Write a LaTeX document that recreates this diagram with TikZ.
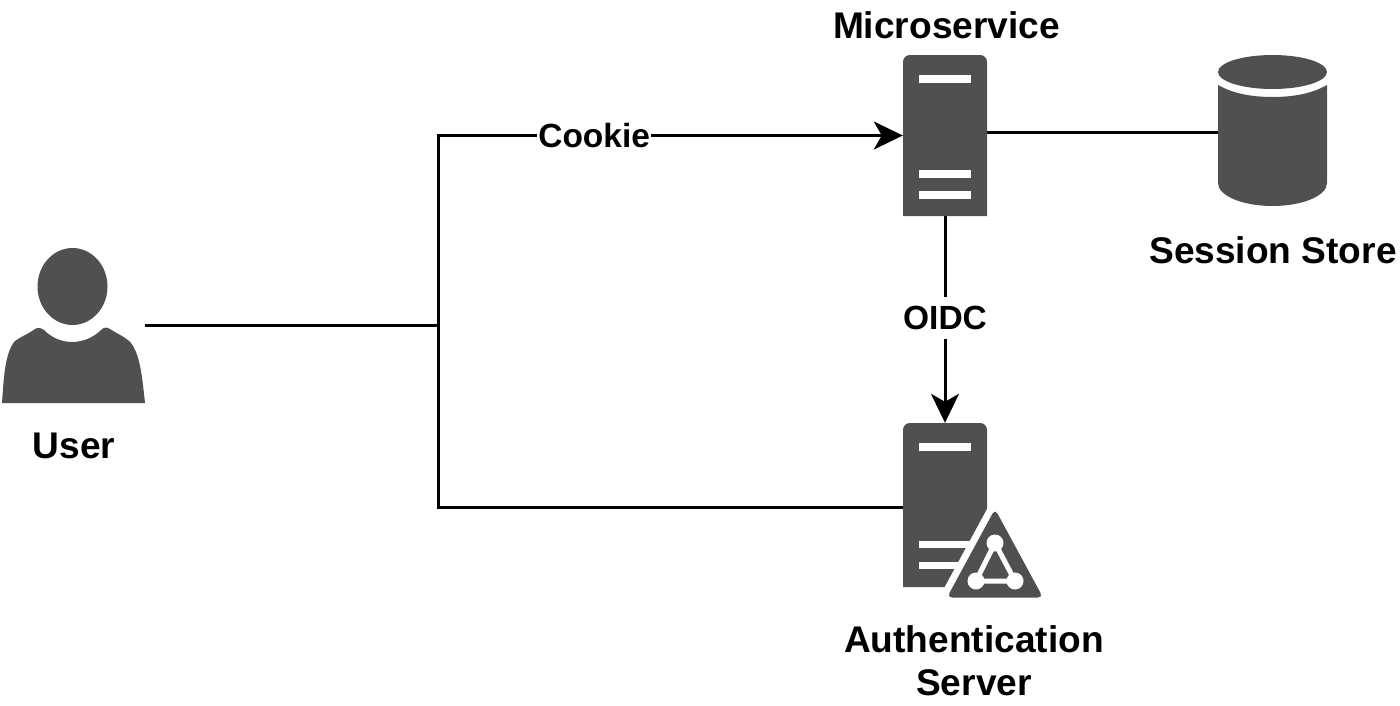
\documentclass[tikz,border=0pt]{standalone}
\usepackage{fontspec}
\setmainfont{Liberation Sans}
\usetikzlibrary{arrows.meta}
\definecolor{icon}{HTML}{505050}
\tikzset{
  lab/.style={font=\fontsize{37.1}{43}\selectfont\bfseries,text=black,inner sep=0pt,align=center},
  edgelab/.style={font=\fontsize{33.5}{40}\selectfont\bfseries,text=black,fill=white,inner sep=1pt},
  conn/.style={draw=black,line width=3pt},
  head/.style={-{Stealth[length=29pt,width=28pt,inset=8pt]}},
  anchorbox/.style={inner sep=0pt,minimum width=#1},
  slot/.style={fill=white,draw=none}
}
\begin{document}
\begin{tikzpicture}[x=1pt,y=-1pt]
\useasboundingbox[fill=white] (0,0) rectangle (1400,705);
% anchor nodes of the icons
\node[anchorbox=143pt,minimum height=155pt] (user) at (73.5,325.5) {};
\node[anchorbox=84pt,minimum height=161pt] (ms) at (945,135.5) {};
\node[anchorbox=84pt,minimum height=164pt] (as) at (945,505) {};
\node[anchorbox=109pt,minimum height=148pt] (db) at (1272.5,132) {};
\coordinate (j) at (438,325.5);
\coordinate (asw) at (as.west |- 0,507);
% connectors
\draw[conn] (user.east) -- (j);
\draw[conn,head] (j) |- (ms.west) node[edgelab,pos=0.668] (cookie) {Cookie};
\draw[conn] (j) |- (asw);
\draw[conn] (ms.east |- db.west) -- (db.west);
\draw[conn,head] (ms.south) -- (as.north) node[edgelab,pos=0.5,yshift=1.5pt,minimum height=42pt] (oidc) {OIDC};
% user icon
\fill[icon] (72.5,286.5) ellipse [x radius=35,y radius=38.5];
\fill[icon] (2,403) .. controls (4,375) and (5,355) .. (14,342)
  .. controls (18,338) and (30,333) .. (35,329)
  .. controls (38,327) and (41,328) .. (44,330)
  .. controls (52,338) and (62,342) .. (72,342)
  .. controls (82,342) and (93,338) .. (101,330)
  .. controls (104,327) and (107,327) .. (110,329)
  .. controls (116,333) and (127,338) .. (131,343)
  .. controls (140,355) and (142,375) .. (145,403) -- cycle;
% microservice icon
\fill[icon] (903,216) -- (903,62) .. controls (903,58) and (906,55) .. (910,55) -- (980,55) .. controls (984,55) and (987,58) .. (987,62) -- (987,216) -- cycle;
\fill[slot] (919,75) rectangle (971,83);
\fill[slot] (919,170) rectangle (971,178);
\fill[slot] (919,191) rectangle (971,199);
% session store icon
\fill[icon] (1218,85) .. controls (1232,93) and (1250,97) .. (1272.5,97)
  .. controls (1295,97) and (1313,93) .. (1327,85) -- (1327,183)
  .. controls (1327,196) and (1302,206) .. (1272.5,206)
  .. controls (1243,206) and (1218,196) .. (1218,183) -- cycle;
\fill[icon] (1272.5,72) ellipse [x radius=54.5,y radius=17];
% authentication server icon
\fill[icon] (903,587) -- (903,430) .. controls (903,426) and (906,423) .. (910,423) -- (980,423) .. controls (984,423) and (987,426) .. (987,430) -- (987,587) -- cycle;
\fill[slot] (919,443) rectangle (971,451);
\fill[slot] (919,541) rectangle (971,548);
\fill[slot] (919,562) rectangle (971,569);
\draw[white,line width=14pt,line join=round,fill=white] (995,509) -- (947,597.5) -- (1043,597.5) -- cycle;
\fill[icon,rounded corners=5pt] (995,509) -- (947,597.5) -- (1043,597.5) -- cycle;
\draw[white,line width=5pt] (995,543) -- (976,581) -- (1015,581) -- cycle;
\fill[white] (995,543) circle (8.5);
\fill[white] (976,581) circle (8.5);
\fill[white] (1015,581) circle (8.5);
% labels
\node[lab] (lbluser) at (74,446) {User};
\node[lab] (lblms) at (946.5,25) {Microservice};
\node[lab] (lbldb) at (1273,250) {Session Store};
\node[lab] (lblas) at (974,661) {Authentication\\Server};
\end{tikzpicture}
\end{document}
